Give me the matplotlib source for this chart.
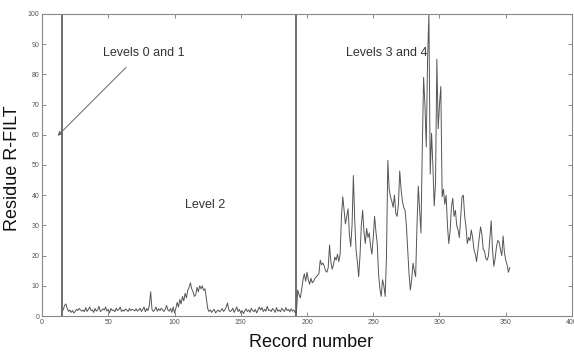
import matplotlib
matplotlib.use("Agg")
import matplotlib.pyplot as plt
import numpy as np

plt.rcParams['font.family'] = ['Liberation Sans', 'DejaVu Sans']

# Level 2 segment: records 16..192
level2_start = 16
level2_values = [
    2.0, 3.5, 4.0, 2.5, 1.5, 2.0, 1.2, 1.8, 1.0, 1.5, 2.2, 1.8, 2.5, 2.0, 1.6,
    2.0, 1.4, 2.8, 1.5, 2.2, 3.0, 1.8, 2.0, 1.2, 2.5, 1.6, 2.0, 3.2, 1.5, 1.8,
    2.4, 2.0, 3.0, 1.6, 2.2, 1.0, 2.5, 1.8, 2.0, 1.4, 2.6, 1.8, 2.2, 3.0, 1.5,
    2.0, 1.6, 2.3, 2.0, 1.5, 2.5, 1.8, 2.2, 2.0, 1.7, 2.4, 1.6, 2.0, 2.6, 1.5,
    2.2, 3.0, 1.4, 2.5, 1.8, 3.5, 8.0, 2.2, 1.5, 2.0, 3.0, 1.6, 2.4, 1.8, 2.6,
    2.0, 1.5, 2.2, 3.5, 2.0, 1.6, 2.5, 1.2, 3.0, 1.0, 2.5, 4.5, 3.0, 5.5, 4.0,
    6.5, 5.0, 7.5, 6.0, 8.5, 9.5, 11.0, 9.0, 8.0, 6.5, 7.0, 9.5, 8.0, 10.0, 9.0,
    10.0, 8.5, 9.0, 6.0, 2.5,
    1.5, 2.0, 1.2, 1.8, 2.2, 1.0, 1.6, 2.0, 1.4, 1.8, 2.5, 1.5, 2.0, 3.0, 4.3,
    2.0, 1.5, 1.8, 2.6, 1.2, 2.0, 3.0, 1.5, 2.2, 1.0, 1.8, 0.8, 1.6, 2.4, 1.5,
    2.0, 1.2, 2.6, 1.8, 1.4, 2.2, 1.0, 2.0, 3.0, 2.0, 2.8, 1.5, 2.2, 1.6, 3.2,
    1.8, 2.0, 1.5, 2.5, 2.0, 1.2, 2.8, 1.6, 2.0, 1.4, 2.6, 2.0, 1.5, 2.8, 1.8,
    2.2, 1.4, 2.4, 1.6, 2.0, 1.2, 1.0,
]

# Levels 3 and 4 segment: records 193..353
level34_start = 193
level34_values = [
    8.6, 7.0, 6.0, 9.0, 12.0, 14.0, 11.5, 14.5,
    12.0, 10.5, 12.5, 11.0, 11.5, 12.5, 13.0, 13.5, 14.0, 18.5,
    17.0, 17.5, 16.5, 15.0, 14.5, 16.0, 23.5, 18.0, 15.5, 17.0,
    19.5, 18.5, 20.5, 18.0, 20.5, 33.0, 39.5, 35.0, 30.5, 33.0,
    35.5, 27.0, 23.0, 30.0, 46.5, 32.0, 22.0, 18.0, 13.0, 20.0,
    30.0, 35.0, 28.0, 24.0, 29.0, 26.0, 27.5, 23.0, 20.5, 26.0,
    33.0, 28.0, 24.0, 14.0, 9.0, 6.5, 12.0, 10.0, 6.5, 20.0,
    51.5, 42.0, 39.5, 38.0, 36.0, 40.0, 34.0, 33.0, 37.0, 48.0,
    42.0, 38.0, 36.0, 35.0, 30.0, 22.0, 14.0, 8.6, 12.0, 17.5,
    15.0, 13.0, 30.0, 43.0, 35.0, 27.5, 55.0, 79.0, 70.0, 56.0,
    85.0, 100.0, 47.0, 60.5, 50.0, 36.5, 44.0, 85.0, 62.0, 70.0,
    76.0, 39.5, 42.0, 37.0, 40.0, 30.0, 24.0, 28.0, 36.0, 39.0,
    33.0, 35.0, 30.0, 28.5, 26.0, 33.0, 39.5, 40.0, 33.0, 29.5,
    24.0, 26.0, 25.0, 28.5, 26.0, 22.0, 20.5, 18.0, 22.0, 26.0,
    29.5, 27.0, 22.0, 21.5, 19.0, 18.5, 20.0, 26.0, 31.5, 22.0,
    16.5, 19.0, 23.0, 25.0, 24.5, 22.0, 20.0, 26.5, 21.0, 18.5, 17.0, 14.5, 16.0,
]

level_boundaries = [15, 192]
x_ticks = [0, 50, 100, 150, 200, 250, 300, 350, 400]
y_ticks = [0, 10, 20, 30, 40, 50, 60, 70, 80, 90, 100]

values = level2_values + level34_values
records = np.arange(level2_start, level2_start + len(values))

fig = plt.figure(figsize=(5.74, 3.54), dpi=100)
ax = fig.add_axes([0.0732, 0.1073, 0.9233, 0.8532])

ax.plot(records, values, color='#555555', linewidth=0.7)
for b in level_boundaries:
    ax.axvline(b, color='#555555', linewidth=1.2)

ax.set_xlim(0, 400)
ax.set_ylim(0, 100)
ax.set_xticks(x_ticks)
ax.set_yticks(y_ticks)
ax.tick_params(direction='in', top=True, right=True, labelsize=5,
               labelcolor='#555555', color='#777777', length=3, width=0.6, pad=2)
for s in ax.spines.values():
    s.set_color('#888888')
    s.set_linewidth(0.8)

ax.set_ylabel('Residue R-FILT', fontsize=13, color='#111111')
ax.yaxis.set_label_coords(-0.040, 0.49)
ax.set_xlabel('Record number', fontsize=13, color='#111111')
ax.xaxis.set_label_coords(0.508, -0.058)

ax.text(77, 87, 'Levels 0 and 1', fontsize=9, ha='center', va='center', color='#333333')
ax.text(260, 87, 'Levels 3 and 4', fontsize=9, ha='center', va='center', color='#333333')
ax.text(123, 36.7, 'Level 2', fontsize=9, ha='center', va='center', color='#333333')
ax.annotate('', xy=(10.3, 59), xytext=(65, 83),
            arrowprops=dict(arrowstyle='-|>', color='#666666', lw=0.7,
                            mutation_scale=6))

fig.savefig('out.png', dpi=100)
